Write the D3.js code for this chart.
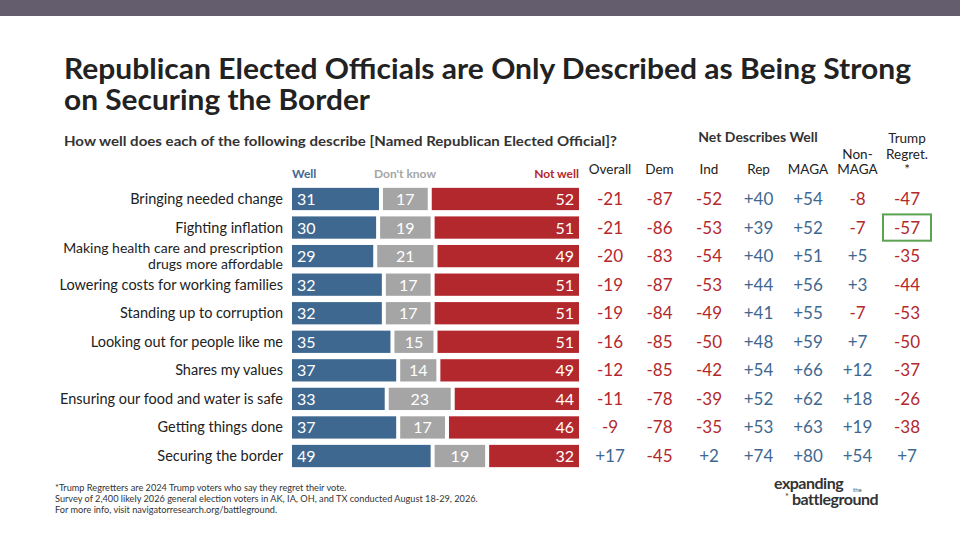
<!DOCTYPE html><html><head><meta charset="utf-8"><script src="https://cdn.jsdelivr.net/npm/d3@7"></script>
<style>body{margin:0;background:#fff}text{font-family:Lato,"Open Sans",sans-serif}</style></head><body><svg id="c" width="960" height="540"></svg>
<script>
const categories=["Bringing needed change","Fighting inflation","Making health care and prescription|drugs more affordable","Lowering costs for working families","Standing up to corruption","Looking out for people like me","Shares my values","Ensuring our food and water is safe","Getting things done","Securing the border"];
const well=[31,30,29,32,32,35,37,33,37,49];
const dontKnow=[17,19,21,17,17,15,14,23,17,19];
const notWell=[52,51,49,51,51,51,49,44,46,32];
const netCols=["Overall","Dem","Ind","Rep","MAGA","Non-|MAGA","Trump|Regret.|*"];
const net=[
[-21,-87,-52,40,54,-8,-47],
[-21,-86,-53,39,52,-7,-57],
[-20,-83,-54,40,51,5,-35],
[-19,-87,-53,44,56,3,-44],
[-19,-84,-49,41,55,-7,-53],
[-16,-85,-50,48,59,7,-50],
[-12,-85,-42,54,66,12,-37],
[-11,-78,-39,52,62,18,-26],
[-9,-78,-35,53,63,19,-38],
[17,-45,2,74,80,54,7]];
const BLUE="#3e6890",GRAY="#a5a5a5",RED="#b3282d",DARK="#222";
const svg=d3.select("#c");
svg.append("rect").attr("width",960).attr("height",16).attr("fill","#645d6e");
svg.append("text").attr("x",64).attr("y",79).attr("font-size",28).attr("font-weight",700).attr("fill",DARK).attr("textLength",847).attr("lengthAdjust","spacingAndGlyphs").text("Republican Elected Officials are Only Described as Being Strong");
svg.append("text").attr("x",64).attr("y",110).attr("font-size",28).attr("font-weight",700).attr("fill",DARK).attr("textLength",306).attr("lengthAdjust","spacingAndGlyphs").text("on Securing the Border");
svg.append("text").attr("x",64).attr("y",146).attr("font-size",14).attr("font-weight",700).attr("fill","#333").attr("textLength",553).attr("lengthAdjust","spacingAndGlyphs").text("How well does each of the following describe [Named Republican Elected Official]?");
svg.append("text").attr("x",758).attr("y",142).attr("font-size",14).attr("font-weight",700).attr("fill","#333").attr("text-anchor","middle").text("Net Describes Well");
const x=d3.scaleLinear().domain([0,100]).range([292,579]);
const y=d3.scaleBand().domain(d3.range(categories.length)).range([185,470]).paddingInner(0.22).paddingOuter(0.1);
const gap=2;
svg.append("text").attr("x",292).attr("y",178).attr("font-size",12).attr("fill",BLUE).attr("font-weight",700).text("Well");
svg.append("text").attr("x",405).attr("y",178).attr("font-size",12).attr("fill",GRAY).attr("font-weight",700).attr("text-anchor","middle").text("Don't know");
svg.append("text").attr("x",579).attr("y",178).attr("font-size",12).attr("fill",RED).attr("font-weight",700).attr("text-anchor","end").text("Not well");
categories.forEach((c,i)=>{
  const g=svg.append("g");const yc=y(i)+y.bandwidth()/2;
  const lines=c.split("|");
  lines.forEach((l,k)=>g.append("text").attr("x",283).attr("y",yc+5+(k-(lines.length-1)/2)*16).attr("text-anchor","end").attr("font-size",lines.length>1?14:14.5).attr("fill",DARK).text(l));
  const segs=[[0,well[i],BLUE],[well[i],well[i]+dontKnow[i],GRAY],[well[i]+dontKnow[i],100,RED]];
  segs.forEach(([a,b,col],k)=>{
    const x0=x(a)+(k>0?gap:0),x1=x(b)-(k<2?gap:0);
    g.append("rect").attr("x",x0).attr("y",y(i)).attr("width",x1-x0).attr("height",y.bandwidth()).attr("fill",col);
  });
  g.append("text").attr("x",x(0)+5).attr("y",yc+6).attr("font-size",16).attr("fill","#fff").text(well[i]);
  g.append("text").attr("x",(x(well[i])+x(well[i]+dontKnow[i]))/2).attr("y",yc+6).attr("font-size",16).attr("fill","#fff").attr("text-anchor","middle").text(dontKnow[i]);
  g.append("text").attr("x",x(100)-5).attr("y",yc+6).attr("font-size",16).attr("fill","#fff").attr("text-anchor","end").text(notWell[i]);
});
const colX=d3.scalePoint().domain(d3.range(netCols.length)).range([610,907]);
netCols.forEach((c,j)=>{
  const lines=c.split("|");
  lines.forEach((l,k)=>svg.append("text").attr("x",colX(j)).attr("y",174-(lines.length-1-k)*15.5).attr("text-anchor","middle").attr("font-size",13.5).attr("fill",DARK).text(l));
});
net.forEach((row,i)=>{const yc=y(i)+y.bandwidth()/2;
  row.forEach((v,j)=>svg.append("text").attr("x",colX(j)).attr("y",yc+6).attr("text-anchor","middle").attr("font-size",17).attr("fill",v<0?RED:BLUE).text((v>0?"+":"")+v));
});
const yb=y(1);
svg.append("rect").attr("x",colX(6)-24).attr("y",yb-2).attr("width",48).attr("height",y.bandwidth()+4).attr("fill","none").attr("stroke","#5aa350").attr("stroke-width",2);
["*Trump Regretters are 2024 Trump voters who say they regret their vote.","Survey of 2,400 likely 2026 general election voters in AK, IA, OH, and TX conducted August 18-29, 2026.","For more info, visit navigatorresearch.org/battleground."].forEach((t,k)=>svg.append("text").attr("x",55).attr("y",491+k*11).attr("font-size",9.2).attr("fill","#333").text(t));
svg.append("text").attr("x",774).attr("y",489).attr("font-size",16).attr("font-weight",700).attr("fill","#333").attr("letter-spacing",-0.5).text("expanding");
svg.append("text").attr("x",853).attr("y",492).attr("font-size",6).attr("fill","#555").text("the");
svg.append("text").attr("x",792).attr("y",505).attr("font-size",16).attr("font-weight",700).attr("fill","#333").attr("letter-spacing",-0.5).text("battleground");
svg.append("text").attr("x",785).attr("y",500).attr("font-size",9).attr("fill","#333").text("*");
</script></body></html>
